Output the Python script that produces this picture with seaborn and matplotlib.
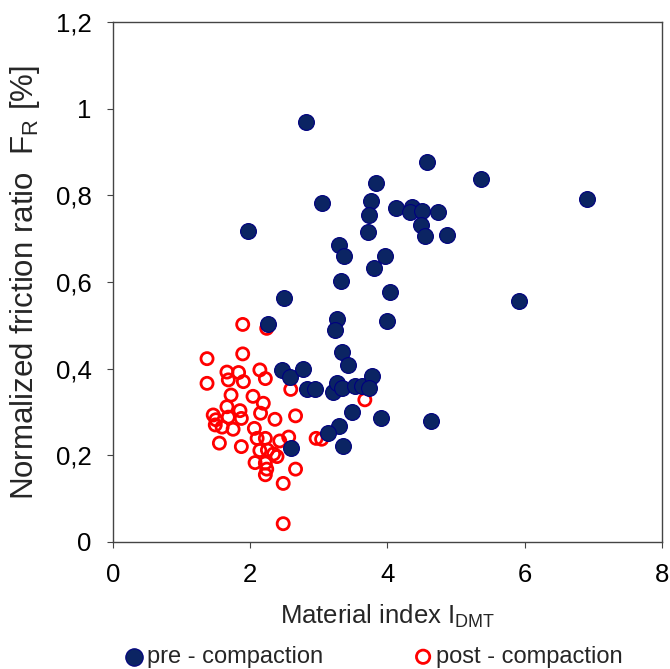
import matplotlib
matplotlib.use("Agg")
import matplotlib.pyplot as plt
import seaborn as sns
from matplotlib.ticker import FuncFormatter

# material index I_DMT and normalized friction ratio F_R
pre_idmt = [2.81, 1.97, 3.05, 2.49, 2.26, 4.57, 5.36, 6.91, 5.91, 3.83,
            3.76, 3.73, 3.72, 4.12, 4.36, 4.33, 4.50, 4.73, 4.49, 4.54,
            4.86, 3.97, 3.29, 3.36, 3.80, 3.32, 4.04, 4.00, 3.26, 3.24,
            3.33, 3.43, 2.46, 2.58, 2.77, 2.82, 2.95, 3.20, 3.26, 3.33,
            3.53, 3.63, 3.77, 3.73, 3.48, 3.90, 3.30, 3.14, 3.35, 2.60,
            4.64]
pre_fr = [0.969, 0.718, 0.782, 0.562, 0.504, 0.876, 0.837, 0.791, 0.555, 0.828,
          0.788, 0.754, 0.716, 0.770, 0.772, 0.762, 0.764, 0.762, 0.732, 0.705,
          0.709, 0.659, 0.685, 0.660, 0.633, 0.602, 0.578, 0.511, 0.515, 0.488,
          0.438, 0.408, 0.397, 0.381, 0.399, 0.354, 0.354, 0.347, 0.366, 0.355,
          0.360, 0.360, 0.383, 0.355, 0.301, 0.285, 0.268, 0.251, 0.222, 0.216,
          0.279]

post_idmt = [1.89, 2.24, 1.37, 1.89, 1.37, 1.66, 1.68, 1.83, 1.90, 2.14,
             2.22, 2.59, 1.72, 2.04, 2.19, 2.15, 1.66, 1.85, 1.46, 1.68,
             1.87, 1.49, 1.59, 1.75, 2.36, 2.66, 2.06, 1.55, 1.87, 2.10,
             2.22, 2.43, 2.56, 2.14, 2.25, 2.34, 2.39, 2.07, 2.22, 2.22,
             2.24, 2.66, 2.48, 2.48, 2.96, 3.04, 3.67, 1.50]
post_fr = [0.502, 0.493, 0.423, 0.434, 0.366, 0.392, 0.374, 0.391, 0.370, 0.397,
           0.377, 0.352, 0.339, 0.336, 0.320, 0.297, 0.312, 0.303, 0.293, 0.288,
           0.285, 0.270, 0.265, 0.260, 0.283, 0.291, 0.262, 0.228, 0.220, 0.239,
           0.239, 0.233, 0.242, 0.211, 0.212, 0.203, 0.197, 0.183, 0.182, 0.155,
           0.168, 0.168, 0.135, 0.042, 0.239, 0.237, 0.328, 0.282]

sns.set_style("white")
plt.rcParams["font.family"] = ["Liberation Sans", "DejaVu Sans"]
plt.rcParams["mathtext.default"] = "regular"

fig = plt.figure(figsize=(6.7, 6.69), dpi=100)
ax = fig.add_axes([0.1687, 0.19, 0.8193, 0.777])

sns.scatterplot(x=pre_idmt, y=pre_fr, ax=ax, s=130, color="#0b2463",
                edgecolor="#000080", linewidth=0.8, label="pre - compaction",
                zorder=3)
sns.scatterplot(x=post_idmt, y=post_fr, ax=ax, s=76, marker="o",
                facecolors="none", edgecolor="#ff0000", linewidth=2.0,
                label="post - compaction", zorder=2)

ax.set_xlim(0, 8)
ax.set_ylim(0, 1.2)
ax.set_xticks([0, 2, 4, 6, 8])
ax.set_yticks([0, 0.2, 0.4, 0.6, 0.8, 1.0, 1.2])


def comma_fmt(v, pos):
    s = f"{v:.1f}".replace(".", ",")
    if s.endswith(",0"):
        s = s[:-2]
    return s


ax.yaxis.set_major_formatter(FuncFormatter(comma_fmt))
ax.tick_params(axis="both", direction="out", length=4.5, width=0.8,
               colors="#444444", labelcolor="black", labelsize=18.5,
               left=True, bottom=True)
ax.tick_params(axis="x", pad=11)
ax.tick_params(axis="y", pad=11)
for sp in ax.spines.values():
    sp.set_color("#444444")
    sp.set_linewidth(1.0)

ax.set_xlabel("Material index I$_{DMT}$", fontsize=18.5)
ax.set_ylabel("Normalized friction ratio  F$_R$ [%]", fontsize=22.5)
ax.xaxis.set_label_coords(0.5, -0.118)
ax.yaxis.set_label_coords(-0.13, 0.5)

handles, labels = ax.get_legend_handles_labels()
ax.get_legend().remove()
fig.legend(handles, labels, loc="center left", bbox_to_anchor=(0.166, 0.018),
           ncol=2, frameon=False, fontsize=17, handletextpad=0.1,
           columnspacing=3.8, handlelength=0.9, borderpad=0, markerscale=1.1)

plt.savefig("out.png", dpi=100)
